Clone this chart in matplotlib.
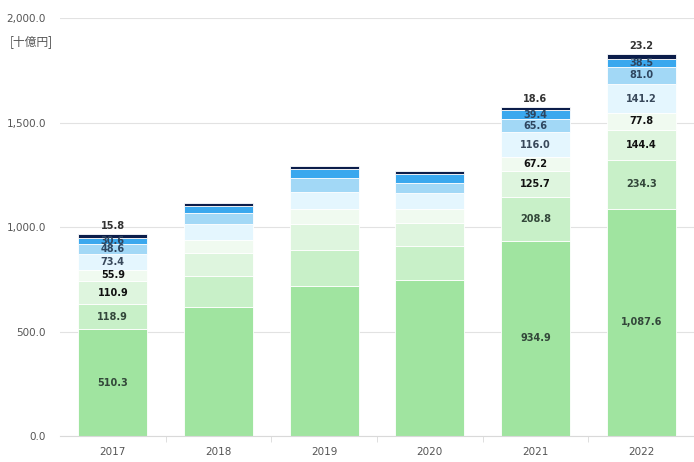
import numpy as np
import matplotlib
matplotlib.use('Agg')
import matplotlib.pyplot as plt

plt.rcParams['font.family'] = ['DejaVu Sans', 'Noto Sans CJK JP']

years = ['2017', '2018', '2019', '2020', '2021', '2022']

# stacked segments, bottom to top
seg1 = [510.3, 615.0, 717.0, 746.0, 934.9, 1087.6]
seg2 = [118.9, 151.0, 175.0, 164.0, 208.8, 234.3]
seg3 = [110.9, 110.0, 124.0, 110.0, 125.7, 144.4]
seg4 = [55.9, 64.0, 68.0, 65.5, 67.2, 77.8]
seg5 = [73.4, 76.5, 83.0, 78.0, 116.0, 141.2]
seg6 = [48.6, 51.0, 69.0, 49.0, 65.6, 81.0]
seg7 = [30.6, 31.0, 41.0, 40.0, 39.4, 38.5]
seg8 = [15.8, 15.0, 16.0, 14.0, 18.6, 23.2]

segments = [seg1, seg2, seg3, seg4, seg5, seg6, seg7, seg8]
colors = ['#a0e4a0', '#c8f0c8', '#def5de', '#f0faf0',
          '#e4f6fe', '#a2d8f6', '#3aa8ee', '#0b1d4a']
label_colors = ['#33473a', '#33473a', '#111111', '#111111',
                '#38485a', '#2e4660', '#2e4660', '#333333']
labeled_years = [0, 4, 5]

fig = plt.figure(figsize=(6.94, 4.62), dpi=100)
ax = fig.add_axes([60/694, 1 - 436/462, 634/694, 418/462])

x = np.arange(len(years))
bottom = np.zeros(len(years))
for k, (vals, c) in enumerate(zip(segments, colors)):
    vals = np.array(vals)
    ax.bar(x, vals, bottom=bottom, width=0.65, color=c,
           edgecolor='white', linewidth=0.6, zorder=2)
    for i in labeled_years:
        if k == len(segments) - 1:
            ypos = bottom[i] + vals[i] + 38
        else:
            ypos = bottom[i] + vals[i] / 2
        ax.text(x[i], ypos, f'{vals[i]:,.1f}', ha='center', va='center',
                fontsize=7, fontweight='bold', color=label_colors[k], zorder=3)
    bottom += vals

ax.set_xlim(-0.5, 5.5)
ax.set_ylim(0, 2000)
ax.set_yticks([0, 500, 1000, 1500, 2000])
ax.set_yticklabels([f'{v:,.1f}' for v in [0, 500, 1000, 1500, 2000]])
ax.set_xticks(x)
ax.set_xticklabels(years)
ax.set_xticks(np.arange(0.5, 5.5, 1), minor=True)
ax.tick_params(axis='x', which='major', length=0, pad=8, labelsize=7.5, colors='#555555')
ax.tick_params(axis='x', which='minor', length=4, color='#d9d9d9')
ax.tick_params(axis='y', length=0, pad=10, labelsize=7.5, colors='#555555')
ax.grid(axis='y', color='#e2e2e2', linewidth=0.8, zorder=0)
for s in ['top', 'right', 'left']:
    ax.spines[s].set_visible(False)
ax.spines['bottom'].set_color('#d9d9d9')

fig.text(10/694, 1 - 42/462, '[十億円]', fontsize=8.5, color='#555555',
         va='center', family=['Noto Sans CJK JP', 'DejaVu Sans'])

fig.savefig('out.png', dpi=100)
